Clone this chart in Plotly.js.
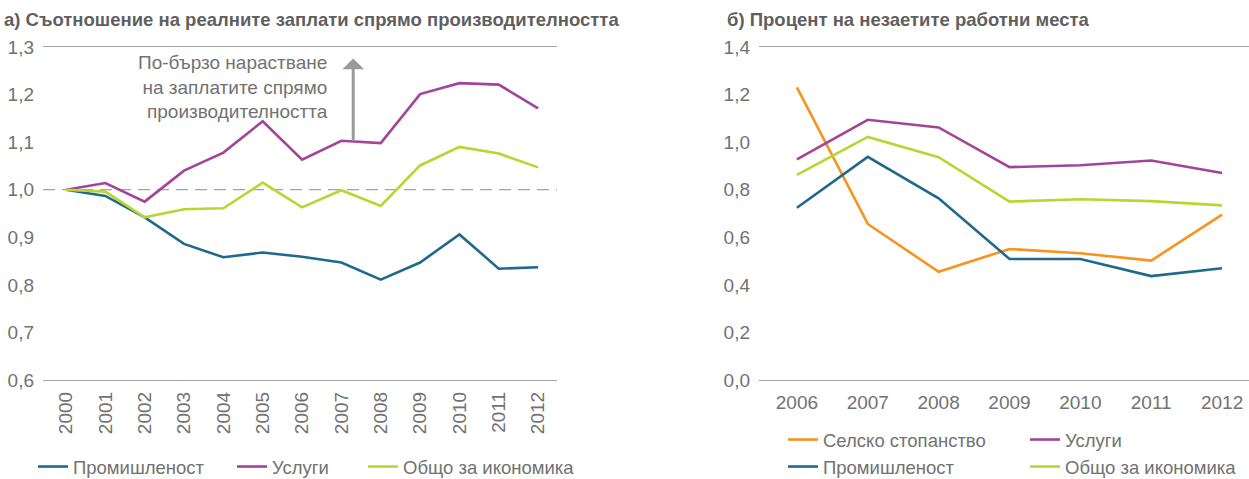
<!DOCTYPE html>
<html>
<head>
<meta charset="utf-8">
<script src="https://cdn.plot.ly/plotly-3.0.1.min.js"></script>
<style>
html,body{margin:0;padding:0;background:#fff;}
#chart{width:1249px;height:479px;}
</style>
</head>
<body>
<div id="chart"></div>
<script>
// ---- data: panel a ----
var yearsA = [2000, 2001, 2002, 2003, 2004, 2005, 2006, 2007, 2008, 2009, 2010, 2011, 2012];
var yearLabelsA = ["2000","2001","2002","2003","2004","2005","2006","2007","2008","2009","2010","2011","2012"];
var industryA = [1.000, 0.987, 0.942, 0.886, 0.858, 0.868, 0.859, 0.847, 0.811, 0.847, 0.906, 0.834, 0.837];
var servicesA = [1.000, 1.014, 0.975, 1.040, 1.078, 1.144, 1.063, 1.103, 1.098, 1.201, 1.224, 1.221, 1.171];
var economyA  = [1.000, 0.996, 0.942, 0.959, 0.961, 1.015, 0.963, 0.999, 0.966, 1.051, 1.090, 1.076, 1.047];

// ---- data: panel b ----
var yearsB = [2006, 2007, 2008, 2009, 2010, 2011, 2012];
var yearLabelsB = ["2006","2007","2008","2009","2010","2011","2012"];
var agricultureB = [1.230, 0.656, 0.455, 0.551, 0.533, 0.502, 0.695];
var servicesB    = [0.928, 1.094, 1.062, 0.895, 0.903, 0.923, 0.870];
var industryB    = [0.724, 0.938, 0.764, 0.509, 0.509, 0.437, 0.470];
var economyB     = [0.862, 1.022, 0.937, 0.750, 0.760, 0.752, 0.734];

var names = {
  industry: "Промишленост",
  services: "Услуги",
  economy: "Общо за икономика",
  agriculture: "Селско стопанство"
};
var titleA = "а) Съотношение на реалните заплати спрямо производителността";
var titleB = "б) Процент на незаетите работни места";
var noteA = "По-бързо нарастване<br>на заплатите спрямо<br>производителността";

var C = {blue:"#1f6a8c", purple:"#a3449b", green:"#bad532", orange:"#f7931e"};
var FONT = "Liberation Sans Narrow, Arial Narrow, sans-serif";
var TXT = "#727272";
var LW = 2.6;

var traces = [
  {x: yearsA, y: industryA, name: names.industry, mode:"lines", line:{color:C.blue,width:LW}, xaxis:"x", yaxis:"y", legend:"legend", legendwidth:154},
  {x: yearsA, y: servicesA, name: names.services, mode:"lines", line:{color:C.purple,width:LW}, xaxis:"x", yaxis:"y", legend:"legend", legendwidth:86},
  {x: yearsA, y: economyA, name: names.economy, mode:"lines", line:{color:C.green,width:LW}, xaxis:"x", yaxis:"y", legend:"legend"},
  {x: yearsB, y: agricultureB, name: names.agriculture, mode:"lines", line:{color:C.orange,width:LW}, xaxis:"x2", yaxis:"y2", legend:"legend2", legendwidth:197},
  {x: yearsB, y: servicesB, name: names.services, mode:"lines", line:{color:C.purple,width:LW}, xaxis:"x2", yaxis:"y2", legend:"legend2"},
  {x: yearsB, y: industryB, name: names.industry, mode:"lines", line:{color:C.blue,width:LW}, xaxis:"x2", yaxis:"y2", legend:"legend3", legendwidth:197},
  {x: yearsB, y: economyB, name: names.economy, mode:"lines", line:{color:C.green,width:LW}, xaxis:"x2", yaxis:"y2", legend:"legend3"}
];

var W = 1249, H = 479, T = 47, B = 99;
var plotH = H - T - B;
function py(pix){ return (H - B - pix) / plotH; }
function px(pix){ return pix / W; }

var legendBase = {orientation:"h", xanchor:"left", yanchor:"middle", bgcolor:"rgba(0,0,0,0)",
  font:{family:FONT, size:18.5, color:TXT}, itemclick:false, itemdoubleclick:false};

var axisLine = {showline:true, mirror:true, linecolor:"#a3a3a3", linewidth:1.3, showgrid:false, zeroline:false, ticks:""};

var layout = {
  width: W, height: H,
  margin: {l:0, r:0, t:T, b:B, autoexpand:false},
  paper_bgcolor: "#fff", plot_bgcolor: "#fff",
  separators: ", ",
  font: {family: FONT, size: 19, color: TXT},
  showlegend: true,
  xaxis: Object.assign({}, axisLine, {
    domain:[px(43), px(557)], range:[1999.415, 2012.48],
    tickvals: yearsA, ticktext: yearLabelsA, tickangle:-90, ticklabelstandoff:3,
    tickfont:{family:FONT, size:19, color:TXT}, anchor:"y"
  }),
  yaxis: {
    domain:[0,1], range:[0.6,1.3], dtick:0.1, tick0:0.6, tickformat:".1f",
    showgrid:false, zeroline:false, showline:false, ticks:"", ticklabelstandoff:8,
    tickfont:{family:FONT, size:19, color:TXT}, anchor:"x"
  },
  xaxis2: Object.assign({}, axisLine, {
    domain:[px(759), 1], range:[2005.465, 2012.38],
    tickvals: yearsB, ticktext: yearLabelsB, ticklabelstandoff:5,
    tickfont:{family:FONT, size:19, color:TXT}, anchor:"y2"
  }),
  yaxis2: {
    domain:[0,1], range:[0,1.4], dtick:0.2, tick0:0, tickformat:".1f",
    showgrid:false, zeroline:false, showline:false, ticks:"", ticklabelstandoff:8,
    tickfont:{family:FONT, size:19, color:TXT}, anchor:"x2"
  },
  legend: Object.assign({}, legendBase, {x:px(33), y:py(467)}),
  legend2: Object.assign({}, legendBase, {x:px(783), y:py(440)}),
  legend3: Object.assign({}, legendBase, {x:px(783), y:py(467)}),
  shapes: [
    {type:"line", xref:"x domain", yref:"y", x0:0, x1:1, y0:1, y1:1,
     line:{color:"#a3a3a3", width:1.3, dash:"12px,7px"}, layer:"below"}
  ],
  annotations: [
    {text:titleA, xref:"paper", yref:"paper", x:px(2), y:py(20), xanchor:"left", yanchor:"middle",
     showarrow:false, font:{family:FONT, size:18.5, color:"#5f5f5f", weight:"bold"}},
    {text:titleB, xref:"paper", yref:"paper", x:px(725), y:py(20), xanchor:"left", yanchor:"middle",
     showarrow:false, font:{family:FONT, size:18.5, color:"#5f5f5f", weight:"bold"}},
    {text:noteA, xref:"paper", yref:"paper", x:px(330), y:py(87), xanchor:"right", yanchor:"middle",
     align:"right", showarrow:false, font:{family:FONT, size:19, color:TXT}},
    {text:"", xref:"x", yref:"y", x:2007.3, y:1.276, axref:"x", ayref:"y", ax:2007.3, ay:1.10,
     showarrow:true, arrowhead:1, arrowsize:1.2, arrowwidth:3, arrowcolor:"#9a9a9a", standoff:0}
  ]
};

Plotly.newPlot("chart", traces, layout, {staticPlot:true, displayModeBar:false});
</script>
</body>
</html>
